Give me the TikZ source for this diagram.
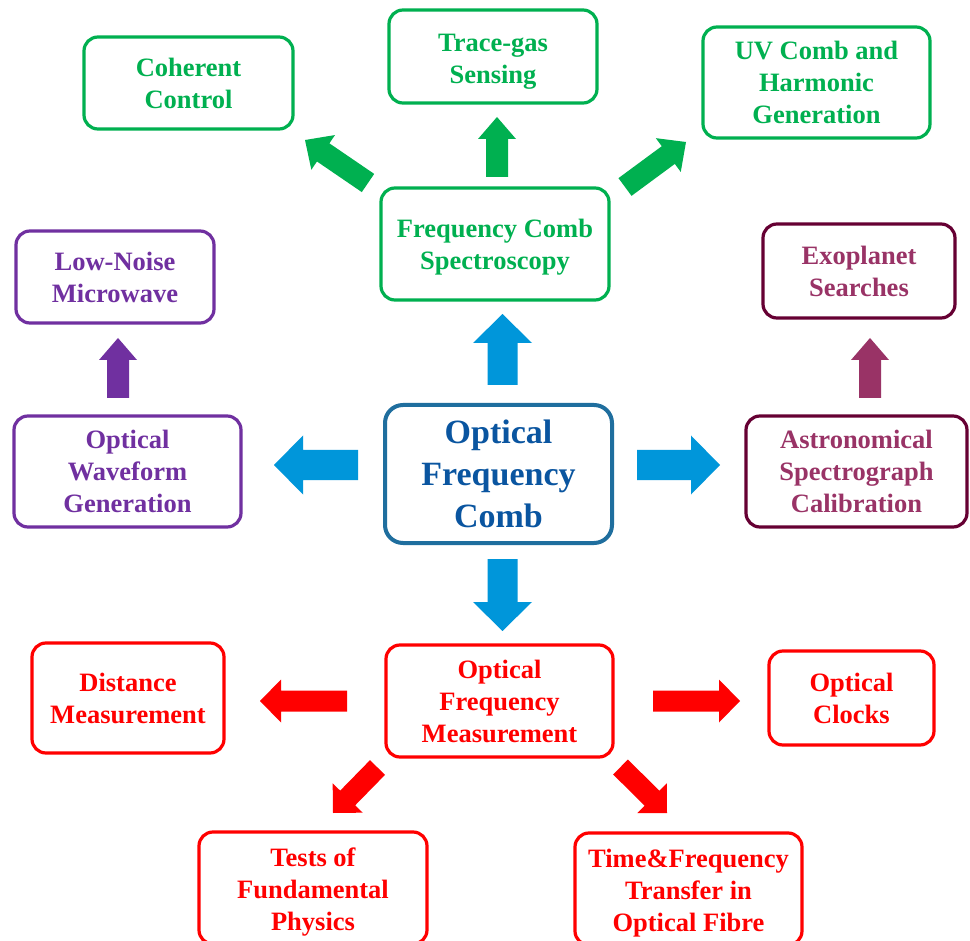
\documentclass[tikz,border=0pt]{standalone}
\usepackage{fontspec}
\setmainfont{Liberation Serif}
\usetikzlibrary{calc}
\definecolor{cblueb}{RGB}{31,110,158}
\definecolor{cbluet}{RGB}{10,85,160}
\definecolor{cbluea}{RGB}{0,150,218}
\definecolor{cgreen}{RGB}{0,176,80}
\definecolor{cpurple}{RGB}{112,48,160}
\definecolor{cmaroonb}{RGB}{102,0,51}
\definecolor{cmaroont}{RGB}{153,51,102}
\definecolor{cred}{RGB}{255,0,0}
\newcommand\BlockArrow[6]{%
  \coordinate (ba-h) at ($(#3)!#6!(#2)$);
  \fill[#1] ($(#2)!#4!90:(#3)$) -- ($(ba-h)!#4!90:(#3)$) -- ($(ba-h)!#5!90:(#3)$) -- (#3)
    -- ($(ba-h)!#5!-90:(#3)$) -- ($(ba-h)!#4!-90:(#3)$) -- ($(#2)!#4!-90:(#3)$) -- cycle;}
\newcommand\upstrut[1]{\rule{0pt}{#1}}
\tikzset{
  box/.style={draw, rounded corners=14pt, line width=3.2pt, align=center, inner sep=0pt,
    font=\fontsize{26.5}{32}\selectfont\bfseries},
  gbox/.style={box, draw=cgreen, text=cgreen},
  pbox/.style={box, draw=cpurple, text=cpurple},
  mbox/.style={box, draw=cmaroonb, text=cmaroont},
  rbox/.style={box, draw=cred, text=cred},
  cbox/.style={box, draw=cblueb, text=cbluet, line width=4pt, rounded corners=18pt,
    font=\fontsize{34}{42}\selectfont\bfseries},
}
\begin{document}
\begin{tikzpicture}[x=1pt,y=-1pt]
\clip (0,0) rectangle (970,941);
\fill[white] (0,0) rectangle (970,941);
% boxes
\node[gbox, minimum width=209pt, minimum height=92pt] (coh) at (188.5,83) {Coherent\\Control};
\node[gbox, minimum width=208pt, minimum height=93pt] (trace) at (493,56.5) {\upstrut{28pt}Trace-gas\\Sensing};
\node[gbox, minimum width=227pt, minimum height=111pt] (uv) at (816.5,82.5) {UV Comb and\\Harmonic\\Generation};
\node[gbox, minimum width=228pt, minimum height=112pt] (fcs) at (495,244) {\upstrut{24pt}Frequency Comb\\Spectroscopy};
\node[pbox, minimum width=198pt, minimum height=92pt] (lnm) at (115,277) {Low-Noise\\Microwave};
\node[mbox, minimum width=192pt, minimum height=94pt] (exo) at (859,271) {Exoplanet\\Searches};
\node[cbox, minimum width=227pt, minimum height=138pt] (ofc) at (498.5,474) {Optical\\Frequency\\Comb};
\node[pbox, minimum width=227pt, minimum height=111pt] (owg) at (127.5,471.5) {Optical\\Waveform\\Generation};
\node[mbox, minimum width=221pt, minimum height=111pt] (asc) at (856.5,471.5) {Astronomical\\Spectrograph\\Calibration};
\node[rbox, minimum width=227pt, minimum height=112pt] (ofm) at (499.5,701) {Optical\\Frequency\\Measurement};
\node[rbox, minimum width=192pt, minimum height=110pt] (dist) at (128,698) {Distance\\Measurement};
\node[rbox, minimum width=165pt, minimum height=94pt] (clk) at (851.5,698) {Optical\\Clocks};
\node[rbox, minimum width=228pt, minimum height=112pt] (tests) at (313,888) {\upstrut{26pt}Tests of\\Fundamental\\Physics};
\node[rbox, minimum width=227pt, minimum height=112pt] (tfr) at (688.5,889) {\upstrut{26pt}Time\&Frequency\\Transfer in\\Optical Fibre};
% blue arrows
\BlockArrow{cbluea}{502.5,385}{502.5,314}{15pt}{29.5pt}{29pt}
\BlockArrow{cbluea}{502.5,559}{502.5,631}{15pt}{29.5pt}{29pt}
\BlockArrow{cbluea}{358,465}{274,465}{15pt}{29.5pt}{29pt}
\BlockArrow{cbluea}{637,465}{720,465}{15pt}{29.5pt}{29pt}
% green arrows
\BlockArrow{cgreen}{368,183}{305,140}{11pt}{21pt}{22pt}
\BlockArrow{cgreen}{497,177}{497,117}{11pt}{19pt}{22pt}
\BlockArrow{cgreen}{625,187}{686,142}{11pt}{21pt}{22pt}
% purple / maroon
\BlockArrow{cpurple}{118,398}{118,338}{11pt}{19pt}{22pt}
\BlockArrow{cmaroont}{870,398}{870,338}{11pt}{19pt}{22pt}
% red arrows
\BlockArrow{cred}{347,701}{260,701}{10.5pt}{21.5pt}{21pt}
\BlockArrow{cred}{653,701}{740,701}{10.5pt}{21.5pt}{21pt}
\BlockArrow{cred}{377.5,767.5}{333,813}{10.5pt}{21pt}{21pt}
\BlockArrow{cred}{620.5,767}{667,813}{10.5pt}{21pt}{21pt}
\end{tikzpicture}
\end{document}
